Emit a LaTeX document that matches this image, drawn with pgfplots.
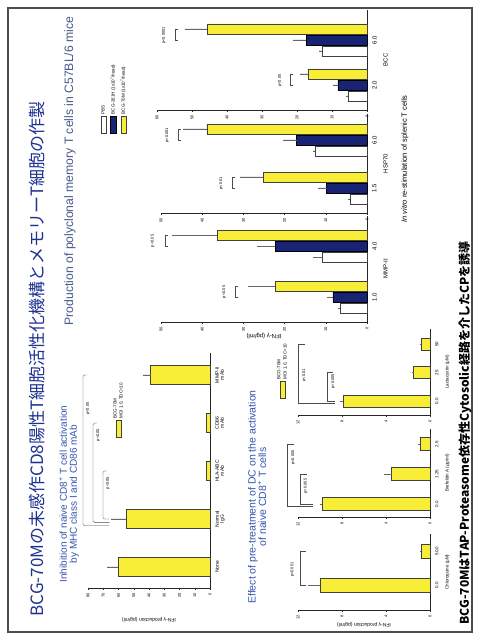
\documentclass[border=0pt]{standalone}
\usepackage{fontspec}
\setmainfont{Liberation Sans}
\newfontfamily\jp{Noto Sans CJK JP}
\usepackage{pgfplots}
\pgfplotsset{compat=1.18}
\definecolor{yel}{RGB}{248,238,55}
\definecolor{nav}{RGB}{25,35,115}
\definecolor{tblue}{RGB}{30,50,145}
\definecolor{pblue}{RGB}{55,85,175}
\definecolor{gblue}{RGB}{70,90,140}
\newcommand{\fs}[1]{\fontsize{#1}{#1}\selectfont}
\pgfplotsset{
 base/.style={
  axis lines=left,
  axis line style={-, line width=0.5pt, black!85},
  every tick/.style={black!85, line width=0.4pt},
  tick align=outside, major tick length=1.8pt,
  /pgf/number format/assume math mode=true,
  yticklabel style={font=\fs{4}},
  x tick style={draw=none},
  enlargelimits=false, clip=false,
  anchor=south west,
  ybar,
  error bars/error bar style={line width=0.35pt, black!60},
  error bars/error mark=none,
 },
 yb/.style={fill=yel, draw=black!75, line width=0.35pt, error bars/y dir=plus, error bars/y explicit},
 nb/.style={fill=nav, draw=black, line width=0.35pt, error bars/y dir=plus, error bars/y explicit},
 pb/.style={fill=white, draw=black!75, line width=0.35pt, error bars/y dir=plus, error bars/y explicit},
}
\tikzset{
 br/.style={line width=0.35pt, black!70},
 pt/.style={font=\fs{4}},
}
\begin{document}
\begin{tikzpicture}[rotate=90, transform shape]
\useasboundingbox (0,0) rectangle (634pt,477pt);
\fill[white] (0,0) rectangle (634pt,477pt);
\draw[line width=1.2pt, black!70] (2pt,5pt) rectangle (626pt,469pt);
% titles
\node[anchor=west, text=tblue, font=\jp\fs{17}] at (14pt,440pt) {BCG-70Mの未感作CD8陽性T細胞活性化機構とメモリーT細胞の作製};
\node[align=center, text=pblue, font=\fs{10}] at (140pt,408pt) {Inhibition of naive CD8\textsuperscript{+} T cell activation\\by MHC class I and CD86 mAb};
\node[text=gblue, font=\fs{12.2}] at (463pt,407pt) {Production of polyclonal memory T cells in C57BL/6 mice};
\node[align=center, text=pblue, font=\fs{10.5}] at (137pt,220pt) {Effect of pre-treatment of DC on the activation\\of naive CD8\textsuperscript{+} T cells};
\node[anchor=west, font=\jp\bfseries\fs{12}] at (6pt,12pt) {BCG-70MはTAP-Proteasome依存性Cytosolic経路を介したCPを誘導};
\node[font=\fs{7.5}] at (475pt,72pt) {\textit{In vitro} re-stimulation of splenic T cells};

% Panel A
\begin{axis}[base, at={(46pt,267pt)}, x=48pt, y=1.525pt,
  xmin=-0.4375, xmax=4.46, ymin=0, ymax=80, ytick={0,10,...,80},
  bar width=19pt,
  xtick={0,...,4}, xticklabels={None,Normal\\IgG,HLA-ABC\\mAb,CD86\\mAb,MMP-II\\mAb},
  xticklabel style={align=center, font=\fs{5}},
  ylabel={IFN-γ production (pg/ml)},
  ylabel style={font=\fs{5}, at={(axis description cs:-0.136,0.5)}, anchor=center},
  legend style={at={(0.638,0.81)}, anchor=north west, draw=none, fill=none, font=\fs{4.5}, inner sep=0pt},
  area legend]
\addplot[yb] coordinates {(0,60) +- (0,7.5) (1,55) +- (0,10) (2,2.5) +- (0,0) (3,2.5) +- (0,0) (4,39) +- (0,5)};
\addlegendentry{\shortstack[l]{BCG-70M\\MOI 1.0, TDC=10}}
\draw[br, rounded corners=1.5pt] (axis cs:1,66) |- (axis cs:2,70.2) -- (axis cs:2,67.5);
\draw[br, rounded corners=1.5pt] (axis cs:0.93,66) |- (axis cs:3,76.7) -- (axis cs:3,74);
\draw[br, rounded corners=1.5pt] (axis cs:0.86,66) |- (axis cs:4,83.3) -- (axis cs:4,80.5);
\node[pt] at (axis cs:1.75,66.9) {p<0.05};
\node[pt] at (axis cs:2.75,73.4) {p<0.05};
\node[pt] at (axis cs:3.3,80) {p<0.05};
\end{axis}

% Panel B: MMP-II
\begin{axis}[base, at={(312pt,110pt)}, x=51pt, y=4.12pt,
  xmin=0.51, xmax=2.59, ymin=0, ymax=50, ytick={0,10,...,50},
  bar width=10pt, ybar=1pt,
  xtick={1,2}, xticklabels={1.0,4.0}, xticklabel style={font=\fs{6}},
  xlabel={MMP-II}, xlabel style={font=\fs{6}},
  ylabel={IFN-γ (pg/ml)},
  ylabel style={font=\fs{6}, at={(axis description cs:-0.13,0.5)}, anchor=center}]
\addplot[pb] coordinates {(1,6.5) +- (0,0.6) (2,11) +- (0,2)};
\addplot[nb] coordinates {(1,8.3) +- (0,1.4) (2,22.3) +- (0,4.4)};
\addplot[yb] coordinates {(1,22.3) +- (0,6.6) (2,36.4) +- (0,10.9)};
\draw[br] (axis cs:1,31.2) |- (axis cs:1.216,32) -- (axis cs:1.216,31.2);
\node[pt] at (axis cs:1.1,34.7) {p<0.05};
\draw[br] (axis cs:2,48.2) |- (axis cs:2.216,49) -- (axis cs:2.216,48.2);
\node[pt] at (axis cs:2.1,52) {p<0.05};
\end{axis}

% Panel B: HSP70
\begin{axis}[base, at={(421pt,110pt)}, x=48pt, y=4.12pt,
  xmin=0.479, xmax=2.54, ymin=0, ymax=50, ytick={0,10,...,50},
  bar width=10pt, ybar=1pt,
  xtick={1,2}, xticklabels={1.5,6.0}, xticklabel style={font=\fs{6}},
  xlabel={HSP70}, xlabel style={font=\fs{6}},
  legend style={at={(0.80,1.30)}, anchor=north west, draw=none, fill=none, font=\fs{4.5}, inner sep=0pt, row sep=0.5pt},
  legend cell align=left, area legend]
\addplot[pb] coordinates {(1,4.1) +- (0,0.4) (2,12.6) +- (0,0.5)};
\addplot[nb] coordinates {(1,9.8) +- (0,2) (2,17.1) +- (0,3.2)};
\addplot[yb] coordinates {(1,25.2) +- (0,5.6) (2,38.9) +- (0,5.7)};
\addlegendentry{PBS}
\addlegendentry{BCG-261H (1x10\textsuperscript{7}/head)}
\addlegendentry{BCG-70M (1x10\textsuperscript{7}/head)}
\draw[br] (axis cs:1,32) |- (axis cs:1.229,32.8) -- (axis cs:1.229,32);
\node[pt] at (axis cs:1.1,35.4) {p<0.01};
\draw[br] (axis cs:2,45.1) |- (axis cs:2.229,45.9) -- (axis cs:2.229,45.1);
\node[pt] at (axis cs:2.1,48.5) {p<0.001};
\end{axis}

% Panel B: BCC
\begin{axis}[base, at={(524pt,110pt)}, x=45pt, y=3.5pt,
  xmin=0.444, xmax=2.667, ymin=0, ymax=60, ytick={0,10,...,60},
  bar width=10pt, ybar=1pt,
  xtick={1,2}, xticklabels={2.0,6.0}, xticklabel style={font=\fs{6}},
  xlabel={BCC}, xlabel style={font=\fs{6}}]
\addplot[pb] coordinates {(1,5.4) +- (0,0.6) (2,12.9) +- (0,0.8)};
\addplot[nb] coordinates {(1,8.3) +- (0,1.4) (2,17.4) +- (0,3.7)};
\addplot[yb] coordinates {(1,16.9) +- (0,2.2) (2,45.7) +- (0,6.3)};
\draw[br] (axis cs:1,21.1) |- (axis cs:1.244,22) -- (axis cs:1.244,21.1);
\node[pt] at (axis cs:1.1,24.9) {p<0.05};
\draw[br] (axis cs:2,54) |- (axis cs:2.244,54.9) -- (axis cs:2.244,54);
\node[pt] at (axis cs:2.1,58) {p<0.0001};
\end{axis}

% Panel C: Chloroquine
\begin{axis}[base, at={(24pt,47pt)}, x=34pt, y=11pt,
  xmin=-0.735, xmax=1.5, ymin=0, ymax=12, ytick={0,4,8,12},
  bar width=14pt,
  xtick={0,1}, xticklabels={0.0,50.0}, xticklabel style={font=\fs{4.5}},
  xlabel={Chloroquine (μM)}, xlabel style={font=\fs{4.5}},
  ylabel={IFN-γ production (pg/ml)},
  ylabel style={font=\fs{5}, at={(axis description cs:-0.2,0.5)}, anchor=center}]
\addplot[yb] coordinates {(0,10.0) +- (0,1.1) (1,0.8) +- (0,0.1)};
\draw[br] (axis cs:0,11.3) |- (axis cs:1,11.8) -- (axis cs:1,11.3);
\node[pt] at (axis cs:0.45,12.5) {p<0.001};
\end{axis}

% Panel C: Brefeldin A
\begin{axis}[base, at={(117pt,47pt)}, x=30pt, y=11pt,
  xmin=-0.433, xmax=2.5, ymin=0, ymax=12, ytick={0,4,8,12},
  bar width=13pt,
  xtick={0,1,2}, xticklabels={0.0,1.25,2.5}, xticklabel style={font=\fs{4.5}},
  xlabel={Brefeldin A (μg/ml)}, xlabel style={font=\fs{4.5}}]
\addplot[yb] coordinates {(0,9.8) +- (0,0.2) (1,3.5) +- (0,0.7) (2,0.9) +- (0,0.2)};
\draw[br] (axis cs:0,10.6) |- (axis cs:1,11.8) -- (axis cs:1,11.2);
\node[pt] at (axis cs:0.6,11.3) {p<0.005};
\draw[br] (axis cs:-0.06,10.6) |- (axis cs:2,13) -- (axis cs:2,12.4);
\node[pt] at (axis cs:1.55,12.45) {p<0.005};
\end{axis}

% Panel C: Lactacystin
\begin{axis}[base, at={(219pt,47pt)}, x=28.5pt, y=11pt,
  xmin=-0.49, xmax=2.53, ymin=0, ymax=12, ytick={0,4,8,12},
  bar width=12pt,
  xtick={0,1,2}, xticklabels={0.0,25,50}, xticklabel style={font=\fs{4.5}},
  xlabel={Lactacystin (μM)}, xlabel style={font=\fs{4.5}},
  legend style={at={(0.186,1.174)}, anchor=north west, draw=none, fill=none, font=\fs{4.5}, inner sep=0pt},
  area legend]
\addplot[yb] coordinates {(0,7.9) +- (0,0.3) (1,1.5) +- (0,0.1) (2,0.8) +- (0,0.1)};
\addlegendentry{\shortstack[l]{BCG-70M\\MOI 1.0, TDC=10}}
\draw[br] (axis cs:0,8.6) |- (axis cs:1,9.36) -- (axis cs:1,8.8);
\node[pt] at (axis cs:0.7,8.8) {p<0.005};
\draw[br] (axis cs:-0.06,8.6) |- (axis cs:2,12) -- (axis cs:2,11.4);
\node[pt] at (axis cs:0.9,11.45) {p<0.01};
\end{axis}
\end{tikzpicture}
\end{document}
